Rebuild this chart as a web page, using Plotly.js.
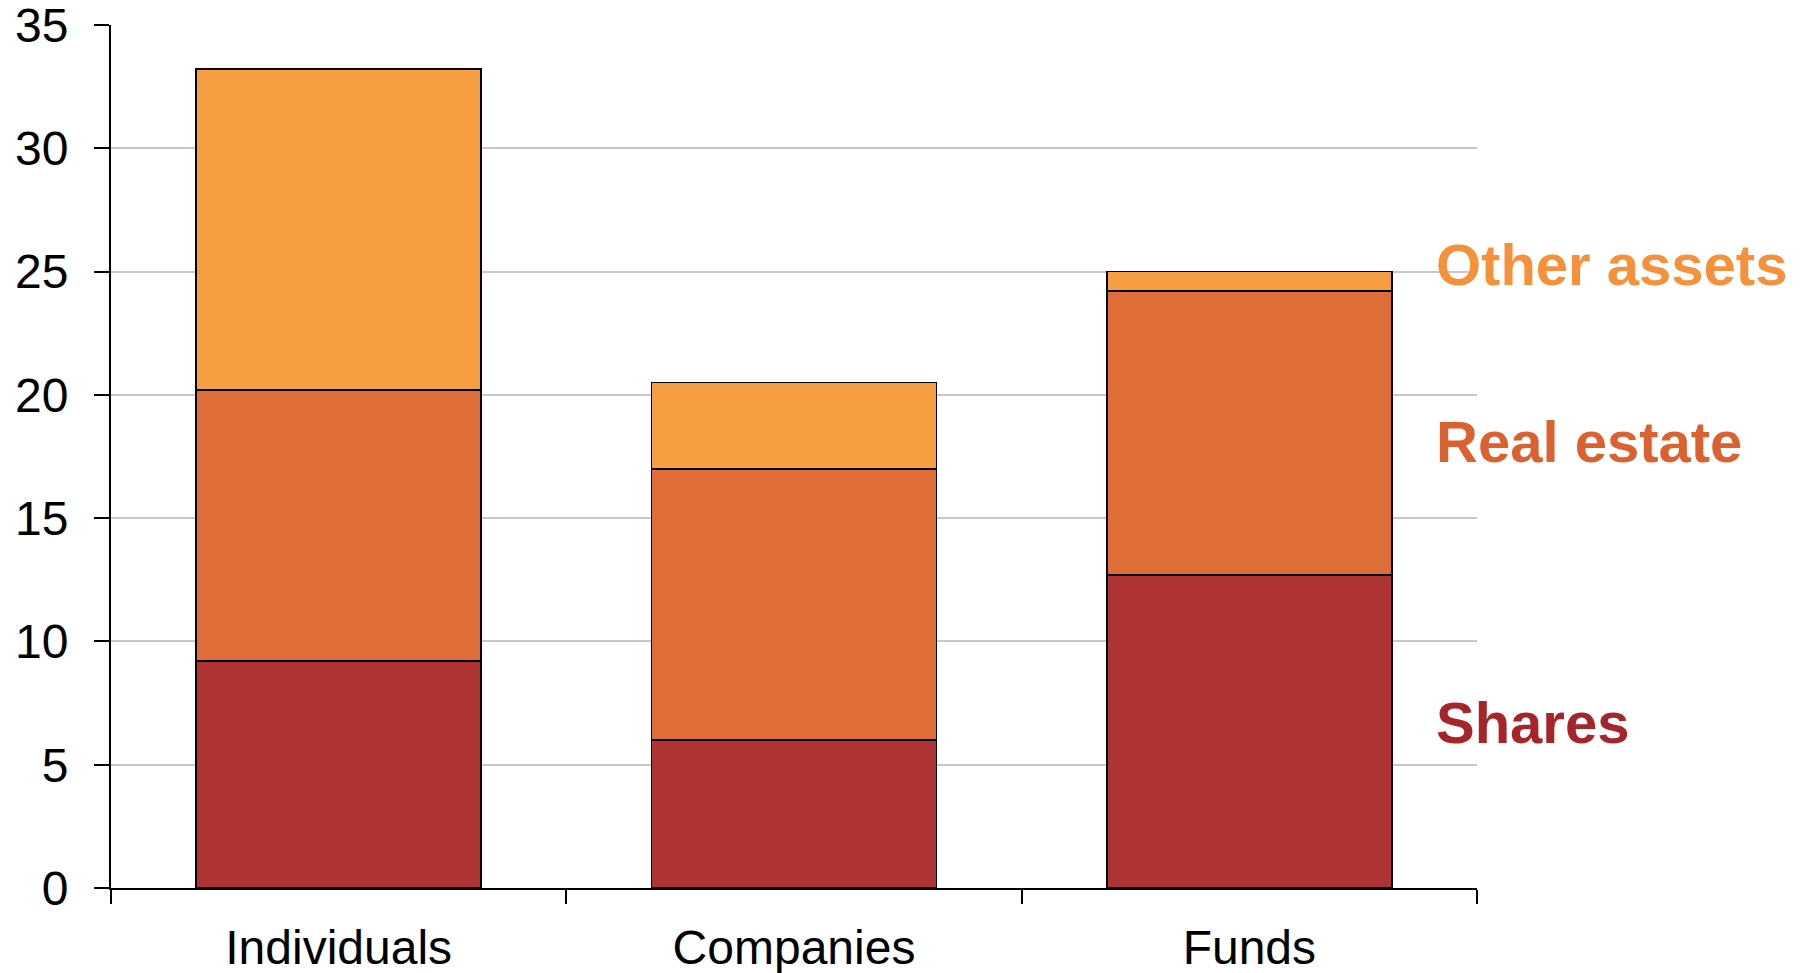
<!DOCTYPE html>
<html>
<head>
<meta charset="utf-8">
<script src="https://cdn.plot.ly/plotly-3.0.1.min.js"></script>
<style>html,body{margin:0;padding:0;background:#fff;}#chart{width:1809px;height:973px;}</style>
</head>
<body>
<div id="chart"></div>
<script>
const categories = ["Individuals", "Companies", "Funds"];
const shares = [9.2, 6.0, 12.7];
const realEstate = [11.0, 11.0, 11.5];
const otherAssets = [13.0, 3.5, 0.8];
const seriesNames = ["Shares", "Real estate", "Other assets"];
const labelY = [6.7, 18.1, 25.3];

const barColors = ["#B03333", "#DE6D37", "#F79E42"];
const labelColors = ["#A6252B", "#DA6230", "#F5913A"];
const seriesValues = [shares, realEstate, otherAssets];

const traces = seriesValues.map((vals, i) => ({
  type: "bar",
  name: seriesNames[i],
  x: categories,
  y: vals,
  marker: {color: barColors[i], line: {color: "#000", width: 1.8}},
  hoverinfo: "x+y+name"
}));

const annotations = seriesNames.map((n, i) => ({
  text: "<b>" + n + "</b>",
  xref: "paper", yref: "y",
  x: 0.9685, y: labelY[i],
  xanchor: "left", yanchor: "middle",
  showarrow: false,
  font: {family: "Liberation Sans, Arial, sans-serif", size: 58, color: labelColors[i]}
}));

const layout = {
  width: 1809, height: 973,
  margin: {l: 111, r: 332, t: 25, b: 85},
  paper_bgcolor: "#fff", plot_bgcolor: "#fff",
  barmode: "stack",
  bargap: 0.374,
  showlegend: false,
  font: {family: "Liberation Sans, Arial, sans-serif", size: 48, color: "#000"},
  xaxis: {
    type: "category",
    showline: true, linecolor: "#000", linewidth: 2,
    ticks: "outside", tickson: "boundaries", ticklen: 14, tickwidth: 2, tickcolor: "#000",
    showgrid: false, zeroline: false,
    tickfont: {size: 48, color: "#000"},
    ticklabelstandoff: 16,
    ticklabeloverflow: "allow"
  },
  yaxis: {
    range: [0, 35], dtick: 5, tick0: 0,
    showline: true, linecolor: "#000", linewidth: 2,
    ticks: "outside", ticklen: 15, tickwidth: 2, tickcolor: "#000",
    showgrid: true, gridcolor: "#C8C8C8", gridwidth: 2,
    zeroline: false,
    tickfont: {size: 48, color: "#000"},
    ticklabelstandoff: 16,
    ticklabeloverflow: "allow"
  },
  annotations: annotations
};

Plotly.newPlot("chart", traces, layout, {displayModeBar: false, staticPlot: true});
</script>
</body>
</html>
